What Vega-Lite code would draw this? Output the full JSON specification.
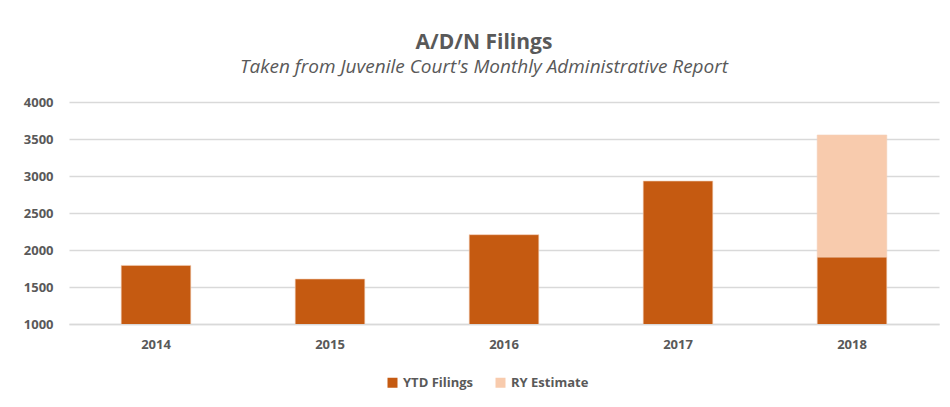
{
  "$schema": "https://vega.github.io/schema/vega-lite/v6.json",
  "width": 870,
  "height": 222,
  "autosize": {"type": "none"},
  "padding": {"left": 69, "top": 102, "right": 11, "bottom": 83},
  "background": "white",
  "title": {
    "text": "A/D/N Filings",
    "subtitle": "Taken from Juvenile Court's Monthly Administrative Report",
    "anchor": "middle",
    "dx": -20,
    "offset": 19,
    "font": "Open Sans",
    "fontSize": 21,
    "fontWeight": "bold",
    "color": "#595959",
    "subtitleFont": "Open Sans",
    "subtitleFontSize": 19,
    "subtitleFontStyle": "italic",
    "subtitleColor": "#595959",
    "subtitlePadding": 5
  },
  "data": {
    "values": [
      {"year": "2014", "series": "YTD Filings", "value": 1792},
      {"year": "2015", "series": "YTD Filings", "value": 1608},
      {"year": "2016", "series": "YTD Filings", "value": 2207},
      {"year": "2017", "series": "YTD Filings", "value": 2932},
      {"year": "2018", "series": "YTD Filings", "value": 1905},
      {"year": "2018", "series": "RY Estimate", "value": 1649}
    ]
  },
  "mark": {"type": "bar", "clip": true, "stroke": "#f3d0b8", "strokeWidth": 0.6},
  "encoding": {
    "x": {
      "field": "year",
      "type": "ordinal",
      "scale": {"paddingInner": 0.6, "paddingOuter": 0.3},
      "axis": {
        "title": null,
        "labelAngle": 0,
        "ticks": false,
        "domain": true,
        "domainColor": "#d9d9d9",
        "domainWidth": 1.5,
        "labelPadding": 14,
        "labelFont": "Open Sans",
        "labelFontSize": 13,
        "labelFontWeight": "bold",
        "labelColor": "#595959"
      }
    },
    "y": {
      "field": "value",
      "type": "quantitative",
      "stack": "zero",
      "scale": {"domain": [1000, 4000], "nice": false, "zero": false},
      "axis": {
        "title": null,
        "format": "d",
        "values": [1000, 1500, 2000, 2500, 3000, 3500, 4000],
        "ticks": false,
        "domain": false,
        "grid": true,
        "gridColor": "#d9d9d9",
        "gridWidth": 1.5,
        "labelPadding": 16,
        "labelFont": "Open Sans",
        "labelFontSize": 13,
        "labelFontWeight": "bold",
        "labelColor": "#595959"
      }
    },
    "color": {
      "field": "series",
      "type": "nominal",
      "scale": {"domain": ["YTD Filings", "RY Estimate"], "range": ["#C55A11", "#F8CBAD"]},
      "legend": {
        "title": null,
        "orient": "none",
        "legendX": 317,
        "legendY": 274,
        "direction": "horizontal",
        "symbolType": "square",
        "symbolSize": 100,
        "symbolStrokeWidth": 0,
        "columnPadding": 20,
        "labelFont": "Open Sans",
        "labelFontSize": 13,
        "labelFontWeight": "bold",
        "labelColor": "#595959"
      }
    },
    "order": {"field": "series", "sort": "descending"}
  },
  "config": {"view": {"stroke": null}}
}
